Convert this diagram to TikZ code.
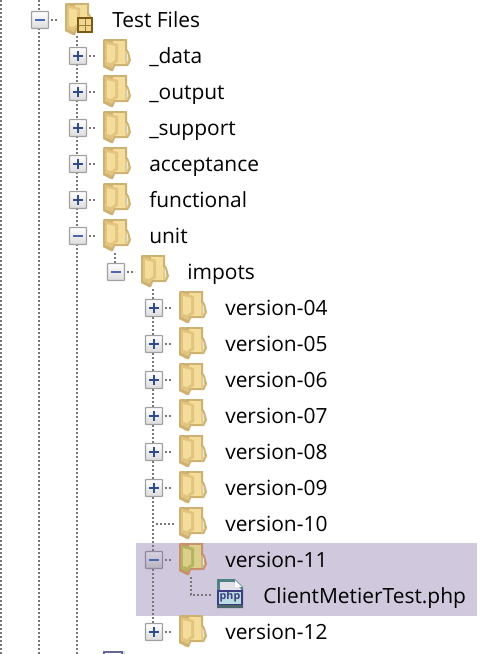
\documentclass[tikz,border=0pt]{standalone}
\usepackage{fontspec}
\setmainfont{Open Sans}
\usetikzlibrary{calc}
\definecolor{hl}{HTML}{D0C8DC}
\definecolor{dotc}{HTML}{787878}
\definecolor{boxe}{HTML}{A0A0A0}
\definecolor{selboxe}{HTML}{9088A0}
\definecolor{signp}{HTML}{2F4C8C}
\definecolor{signm}{HTML}{4A68B0}
\definecolor{fout}{HTML}{CDB273}
\definecolor{fpan}{HTML}{F4DD9B}
\definecolor{fflap}{HTML}{E2C47E}
\definecolor{fhi}{HTML}{DCEBF0}
\definecolor{sout}{HTML}{C98F6E}
\definecolor{span}{HTML}{DCCF8C}
\definecolor{sflap}{HTML}{B4B45C}
\definecolor{rbox}{HTML}{7A5A14}
\definecolor{rfill}{HTML}{EFD690}
\definecolor{iteal}{HTML}{4F8088}
\definecolor{inavy}{HTML}{3C3C80}
\definecolor{ipale}{HTML}{E4E0EA}
\definecolor{icyan}{HTML}{B8DCE0}
\definecolor{ibot}{HTML}{4A6468}
\tikzset{
 x=0.75pt,y=-0.75pt,
 conn/.style={draw=dotc,line width=1.5pt,dash pattern=on 1.5pt off 1.5pt},
 expbox/.style={draw=boxe,line width=0.9pt,rounded corners=0.6pt,minimum size=12.75pt,inner sep=0pt,outer sep=0pt,top color=white,bottom color=black!14},
 selbox/.style={expbox,draw=selboxe,top color=hl!85!white,bottom color=hl!70!gray},
 label/.style={anchor=base west,inner sep=0pt,font=\fontsize{15.7pt}{18pt}\selectfont},
 foldernode/.style={minimum width=21pt,minimum height=24pt,inner sep=0pt,outer sep=0pt},
 pics/folderic/.style n args={4}{code={
  \fill[#1] (-14,-15) -- (-13,-16) -- (10,-16) -- (10,-6) -- (12,-3) -- (14,5) -- (11,11) -- (-2,11) -- (-4,16) -- (-6,16) -- (-14,12) -- cycle;
  \fill[#2] (-4,-14) -- (8,-14) -- (8,9) -- (-4,9) -- cycle;
  \fill[#2!60!#1] (8,-4) -- (10,-3) -- (12,5) -- (10,9) -- (8,9) -- cycle;
  \fill[#4] (10,-1) rectangle (11,6);
  \fill[#3] (-12,-14) -- (-3,-12) -- (1,-11) -- (1,7) -- (-3,9) -- (-5,13) -- (-12,10) -- cycle;
  \fill[#2] (-10,-11) -- (-2,-9) -- (-2,5) -- (-6,8) -- (-10,7) -- cycle;
 }},
}
\newcommand{\signminus}[1]{\draw[signm,line width=1.5pt] ($(#1)+(-5,0)$) -- ($(#1)+(5,0)$);}
\newcommand{\signplus}[1]{\draw[signp,line width=1.5pt] ($(#1)+(-5,0)$) -- ($(#1)+(5,0)$) ($(#1)+(0,-5)$) -- ($(#1)+(0,5)$);}
\begin{document}
\begin{tikzpicture}
\useasboundingbox (0,0) rectangle (500,654);
\fill[white] (0,0) rectangle (500,654);
\fill[hl] (136,543) rectangle (477,616);
\coordinate (ltop) at (1,0); \coordinate (lbot) at (1,654);
\coordinate (mtop) at (39,0); \coordinate (mbot) at (39,654);
\coordinate (rbot) at (77,654);
\draw[conn] (ltop) -- (lbot);
\draw[conn] (mtop) -- (mbot);
% folders, labels
\foreach \n/\bx/\y/\t in {
 data/78/56/\_data, output/78/92/\_output, support/78/128/\_support, acceptance/78/164/acceptance, functional/78/200/functional, unit/78/236/unit,
 impots/116/272/impots,
 vfour/154/308/version-04, vfive/154/344/version-05, vsix/154/380/version-06, vseven/154/416/version-07, veight/154/452/version-08, vnine/154/488/version-09, vten/154/524/version-10, veleven/154/560/version-11, vtwelve/154/632/version-12}{
 \node[foldernode] (f\n) at (\bx+39,\y-1) {};
 \node[label] (t\n) at (\bx+71,\y+7) {\t};
}
\node[foldernode] (froot) at (79,19) {};
\node[label] (troot) at (112,27) {Test Files};
\node[label] (tclient) at (263,603) {ClientMetierTest.php};
% long connectors
\draw[conn] (77,36) -- (rbot);
\draw[conn] (115,253) -- (115,263);
\draw[conn] (153,289) -- (153,623);
% boxes
\node[expbox] (broot) at (40,20) {};
\foreach \n/\bx/\y in {data/78/56, output/78/92, support/78/128, acceptance/78/164, functional/78/200, unit/78/236, impots/116/272, vfour/154/308, vfive/154/344, vsix/154/380, vseven/154/416, veight/154/452, vnine/154/488, vtwelve/154/632}{
 \node[expbox] (b\n) at (\bx,\y) {};
}
\node[selbox] (bveleven) at (154,560) {};
\coordinate (bvten) at (153,524);
\foreach \n in {root,data,output,support,acceptance,functional,unit,impots,vfour,vfive,vsix,vseven,veight,vnine,veleven,vtwelve}{
 \draw[conn,shorten <=1.5pt,shorten >=6pt] (b\n.east) -- (f\n.west |- b\n.east);
}
\draw[conn,shorten <=2.25pt,shorten >=3pt] (bvten) -- (fvten.west |- bvten);
\foreach \n in {data,output,support,acceptance,functional,vfour,vfive,vsix,vseven,veight,vnine,vtwelve}{\signplus{b\n}}
\foreach \n in {root,unit,impots,veleven}{\signminus{b\n}}
% folder icons
\foreach \n in {root,data,output,support,acceptance,functional,unit,impots,vfour,vfive,vsix,vseven,veight,vnine,vten,vtwelve}{
 \path (f\n.center) pic {folderic={fout}{fpan}{fflap}{fhi}};
}
\path (fveleven.center) pic {folderic={sout}{span}{sflap}{fhi}};
% root overlay
\fill[rbox] (77,17) rectangle (93,33);
\fill[rfill] (79,19) rectangle (91,31);
\draw[rbox!70!rfill,line width=0.75pt] (79,25) -- (91,25) (85,19) -- (85,31);
% file icon
\fill[iteal] (217,579) -- (235,579) -- (243,587) -- (243,608) -- (217,608) -- cycle;
\fill[ipale] (220,582) -- (234,582) -- (241,589) -- (241,606) -- (220,606) -- cycle;
\fill[white] (235,580) -- (242,587) -- (235,587) -- cycle;
\fill[inavy] (217,590) rectangle (243,606);
\fill[icyan] (219,592) rectangle (241,604);
\fill[ibot] (217,605) rectangle (243,608);
\node[inner sep=0pt,font=\bfseries\fontsize{8pt}{8pt}\selectfont,text=inavy] (phpmark) at (230,597) {php};
\coordinate (cbend) at (191,595);
\coordinate (cfile) at (213,595);
\draw[conn] (191,577) -- (cbend) -- (cfile);
% bottom partial icon
\fill[gray!80!blue] (103,651) rectangle (123,654);
\fill[white] (105,653) rectangle (121,654);
\fill[gray!30] (123,651) rectangle (125,654);
\end{tikzpicture}
\end{document}
